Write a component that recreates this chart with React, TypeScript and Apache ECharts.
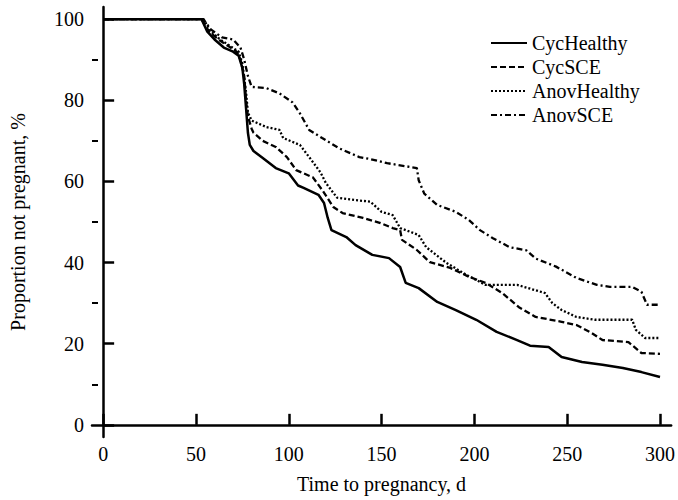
import React, { useEffect, useRef } from "react";
import * as echarts from "echarts";

const seriesNames = ["CycHealthy", "CycSCE", "AnovHealthy", "AnovSCE"];

const cycHealthy: number[][] = [
  [0, 100], [53, 100], [56, 97], [60, 95], [65, 93], [70, 92], [73, 91], [75, 88], [76, 84], [77, 78],
  [78, 72], [79, 69], [81, 67.5], [86, 65.8], [93, 63.3], [100, 62], [105, 59], [108, 58.4], [116, 56.7],
  [119, 54.7], [121, 51], [123, 48], [131, 46.3], [136, 44.3], [145, 41.9], [154, 41.1], [160, 38.9],
  [163, 35], [170, 33.7], [180, 30.3], [190, 28.3], [201, 25.9], [212, 22.9], [223, 20.9], [230, 19.5],
  [240, 19.2], [247, 16.7], [258, 15.5], [269, 14.8], [280, 14], [290, 13], [300, 11.8],
];

const cycSCE: number[][] = [
  [0, 100], [53, 100], [57, 97], [62, 95], [67, 93.5], [72, 92], [74, 90], [76, 86], [77, 80], [78, 76],
  [80, 73], [81, 72], [86, 70], [93, 68.5], [99, 66], [104, 62.8], [113, 61], [118, 57.9], [124, 53.7],
  [129, 52.2], [140, 51], [149, 49.8], [156, 48.5], [160, 48], [161, 45.6], [169, 43.1], [176, 40.1],
  [187, 38.7], [197, 36.5], [206, 35], [215, 32.5], [224, 29], [233, 26.6], [247, 25.4], [255, 24.6],
  [263, 22.7], [269, 20.9], [283, 20.4], [290, 17.7], [300, 17.5],
];

const anovHealthy: number[][] = [
  [0, 100], [54, 100], [58, 97], [63, 95], [68, 93.5], [73, 92], [75, 89], [77, 82], [78, 77], [80, 75],
  [88, 73.4], [95, 72.7], [97, 70.7], [106, 69], [111, 66], [117, 62.3], [120, 59.6], [126, 56],
  [136, 55.4], [144, 55], [150, 52.5], [156, 51.7], [160, 48.5], [170, 46.8], [174, 43.8], [185, 39.9],
  [196, 36.9], [206, 34.5], [223, 34.5], [238, 32.5], [242, 30], [247, 28.3], [255, 26.6], [265, 25.9],
  [285, 25.9], [287, 23.4], [292, 21.4], [300, 21.4],
];

const anovSCE: number[][] = [
  [0, 100], [54, 100], [58, 97.5], [64, 95.5], [70, 95], [74, 93], [76, 90], [78, 86], [80, 83.3],
  [88, 83], [95, 81.7], [102, 79.5], [106, 76.8], [111, 72.7], [118, 70.7], [127, 68.2], [138, 66],
  [144, 65.5], [153, 64.5], [169, 63.3], [170, 60.3], [173, 57], [180, 54.2], [190, 52.5], [197, 50.5],
  [203, 48], [210, 46], [219, 43.8], [228, 43], [233, 41], [244, 39], [255, 36.2], [266, 34.5],
  [273, 34], [285, 34], [290, 32.8], [293, 29.6], [300, 29.6],
];

const xTicks = [0, 50, 100, 150, 200, 250, 300];
const yTicks = [0, 20, 40, 60, 80, 100];
const yMinorTicks = [10, 30, 50, 70, 90];

const FONT = "Liberation Serif";

export default function App() {
  const ref = useRef<HTMLDivElement>(null);
  useEffect(() => {
    if (!ref.current) return;
    const chart = echarts.init(ref.current, null, { renderer: "svg" });
    const datasets = [cycHealthy, cycSCE, anovHealthy, anovSCE];
    const dashes: any[] = ["solid", [6, 3], [2, 2], [6, 3, 2, 3]];
    const widths = [2.5, 2.3, 2.3, 2.3];
    chart.setOption({
      animation: false,
      backgroundColor: "#fff",
      textStyle: { fontFamily: FONT },
      grid: { left: 92, right: 5, top: 7, bottom: 63 },
      legend: {
        orient: "vertical",
        left: 485,
        top: 28,
        itemWidth: 36,
        itemHeight: 14,
        itemGap: 4,
        itemStyle: { opacity: 0 },
        textStyle: { fontFamily: FONT, fontSize: 20, color: "#000" },
        data: seriesNames,
      },
      xAxis: {
        type: "value",
        min: -6,
        max: 306,
        name: "Time to pregnancy, d",
        nameLocation: "middle",
        nameGap: 37,
        nameTextStyle: { fontFamily: FONT, fontSize: 20, color: "#000" },
        splitLine: { show: false },
        axisLine: { show: true, lineStyle: { color: "#000", width: 2.5 } },
        axisTick: { show: true, inside: true, length: 11, customValues: xTicks, lineStyle: { color: "#000", width: 2.5 } },
        axisLabel: { customValues: xTicks, fontFamily: FONT, fontSize: 20, color: "#000", margin: 7 },
      },
      yAxis: [
        {
          type: "value",
          min: -3,
          max: 103,
          name: "Proportion not pregnant, %",
          nameLocation: "middle",
          nameGap: 64,
          nameTextStyle: { fontFamily: FONT, fontSize: 20, color: "#000" },
          splitLine: { show: false },
          axisLine: { show: true, lineStyle: { color: "#000", width: 2.5 } },
          axisTick: { show: true, inside: true, length: 11, customValues: yTicks, lineStyle: { color: "#000", width: 2.5 } },
          axisLabel: { customValues: yTicks, fontFamily: FONT, fontSize: 20, color: "#000", margin: 8 },
        },
        {
          type: "value",
          min: -3,
          max: 103,
          position: "left",
          splitLine: { show: false },
          axisLine: { show: false },
          axisTick: { show: true, inside: true, length: 6, customValues: yMinorTicks, lineStyle: { color: "#000", width: 2 } },
          axisLabel: { show: false },
        },
      ],
      series: datasets.map((d, i) => ({
        name: seriesNames[i],
        type: "line",
        data: d,
        symbol: "none",
        showSymbol: false,
        yAxisIndex: 0,
        lineStyle: { color: "#000", width: widths[i], type: dashes[i] },
        itemStyle: { color: "#000" },
      })),
    });
    return () => chart.dispose();
  }, []);
  return <div ref={ref} style={{ position: "fixed", left: 0, top: 0, width: 678, height: 500 }} />;
}
